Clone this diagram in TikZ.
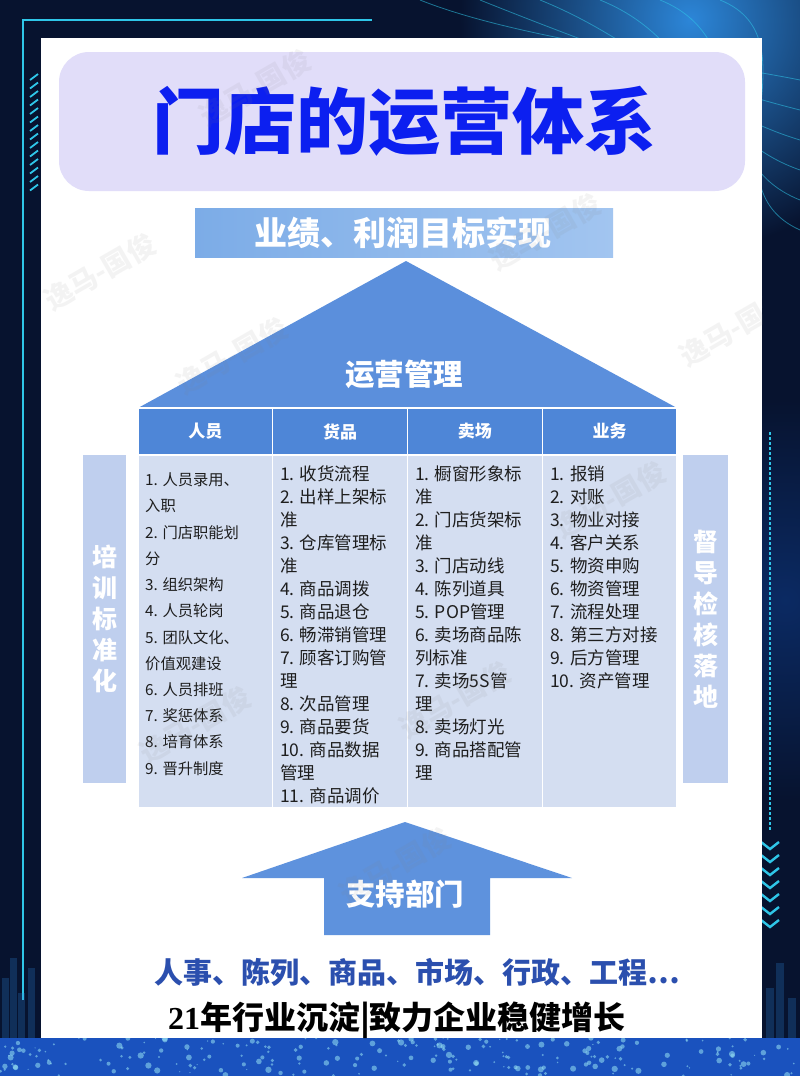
\documentclass[tikz,border=0pt]{standalone}
\usepackage{fontspec}
\newfontfamily\cjk{Noto Sans CJK SC}
\newfontfamily\serifb{Liberation Serif}
\usetikzlibrary{shadings}
\definecolor{bgdark}{HTML}{07132F}
\definecolor{bgmid}{HTML}{0B2A63}
\definecolor{glow}{HTML}{2C86D8}
\definecolor{cyanl}{HTML}{2FC6E8}
\definecolor{titlebox}{HTML}{E1DDF9}
\definecolor{titleblue}{HTML}{0C1FF0}
\definecolor{barL}{HTML}{7CACE7}
\definecolor{barR}{HTML}{A2C5F0}
\definecolor{triblue}{HTML}{5B8FDC}
\definecolor{hdrblue}{HTML}{4E86D7}
\definecolor{bodyblue}{HTML}{D4DEF1}
\definecolor{sideblue}{HTML}{BFCFEE}
\definecolor{arrowblue}{HTML}{5E92DD}
\definecolor{supblue}{HTML}{2B4FAE}
\definecolor{txtc}{HTML}{1E1E1E}
\definecolor{stripblue}{HTML}{1A52BE}
\tikzset{
  hdrcell/.style={fill=hdrblue, draw=white, line width=1.2pt, minimum width=134.75pt, minimum height=47pt, inner sep=0pt, text=white, font=\cjk\bfseries\fontsize{17}{17}\selectfont},
  bodycell/.style={fill=bodyblue, draw=white, line width=1.2pt, minimum width=134.75pt, minimum height=353pt, inner sep=0pt},
  sidebar/.style={fill=sideblue, inner sep=0pt, text=white, align=center, font=\cjk\bfseries\fontsize{25}{31}\selectfont},
  txtA/.style={anchor=west, inner sep=0pt, text=txtc, font=\cjk\fontsize{15.3}{15.3}\selectfont},
  txtB/.style={anchor=west, inner sep=0pt, text=txtc, font=\cjk\fontsize{17.5}{17.5}\selectfont},
  wm/.style={rotate=30, text=gray, opacity=0.09, font=\cjk\bfseries\fontsize{28}{28}\selectfont}
}
\begin{document}
\begin{tikzpicture}[x=1pt,y=-1pt]
\useasboundingbox (0,0) rectangle (800,1076);
% ---------- background ----------
\fill[bgdark] (0,0) rectangle (800,1076);
\shade[inner color=glow, outer color=bgdark] (690,20) circle (230pt);
\shade[inner color=bgmid, outer color=bgdark] (785,600) circle (200pt);
\foreach \a in {0,1,2,3,4,5}{
  \draw[cyanl, opacity=0.55, line width=0.8pt] (420+60*\a,0) .. controls (520+60*\a,40) and (700,60+25*\a) .. (800,80+30*\a);
}
\draw[cyanl, line width=1.6pt] (23,1000) -- (23,20) -- (372,20);
\foreach \k in {0,...,13}{
  \draw[cyanl, line width=1.8pt] (30,80+8.5*\k) -- (38,74+8.5*\k);
}
\draw[cyanl, line width=2pt, dash pattern=on 3pt off 2pt] (770,432) -- (770,830);
\foreach \k in {0,...,6}{
  \draw[cyanl, line width=2.4pt] (761,842+13*\k) -- (770,849+13*\k) -- (779,842+13*\k);
}
\foreach \bx/\bh in {2/60,10/80,18/45,28/70}{
  \fill[glow, opacity=0.25] (\bx,1038-\bh) rectangle (\bx+7,1038);
}
\foreach \bx/\bh in {766/50,776/75,788/40}{
  \fill[glow, opacity=0.25] (\bx,1038-\bh) rectangle (\bx+8,1038);
}
% bottom strip
\fill[stripblue] (0,1038) rectangle (800,1076);
\pgfmathsetseed{11}
\foreach \k in {1,...,220}{
  \pgfmathsetmacro\rx{rnd*800}
  \pgfmathsetmacro\ry{1038+rnd*38}
  \pgfmathsetmacro\rr{0.6+rnd*2.6}
  \fill[cyanl!50!white, opacity=0.55] (\rx,\ry) circle (\rr pt);
}
% ---------- white panel ----------
\fill[white] (41,38) rectangle (762,1038);
% ---------- title ----------
\fill[titlebox, rounded corners=30pt] (59,52) rectangle (745,191);
\node[text=titleblue, font=\cjk\bfseries\fontsize{72}{72}\selectfont, inner sep=0pt] (title) at (404,121) {门店的运营体系};
% ---------- goal bar ----------
\shade[left color=barL, right color=barR] (195,208) rectangle (613,257);
\node[text=white, font=\cjk\bfseries\fontsize{33}{33}\selectfont, inner sep=0pt] (goal) at (403,233) {业绩、利润目标实现};
% ---------- roof triangle ----------
\coordinate (apex) at (406,261);
\coordinate (tl) at (138,408);
\coordinate (tr) at (677,408);
\fill[triblue] (apex) -- (tr) -- (tl) -- cycle;
\node[text=white, font=\cjk\bfseries\fontsize{29.5}{29.5}\selectfont, inner sep=0pt] (ops) at (404,374) {运营管理};
% ---------- header & body ----------
\foreach \t [count=\i from 0] in {人员,货品,卖场,业务}{
  \node[hdrcell] (h\i) at (205.4+134.75*\i,431.5) {\t};
  \node[bodycell] (b\i) at (205.4+134.75*\i,631.5) {};
}
% column texts
\foreach \t [count=\i from 0] in {1. 人员录用、,入职,2. 门店职能划,分,3. 组织架构,4. 人员轮岗,5. 团队文化、,价值观建设,6. 人员排班,7. 奖惩体系,8. 培育体系,9. 晋升制度}{
  \node[txtA] (ca\i) at (145,480+26.2*\i) {\t};
}
\foreach \t [count=\i from 0] in {1. 收货流程,2. 出样上架标,准,3. 仓库管理标,准,4. 商品调拨,5. 商品退仓,6. 畅滞销管理,7. 顾客订购管,理,8. 次品管理,9. 商品要货,10. 商品数据,管理,11. 商品调价}{
  \node[txtB] (cb\i) at (280,474+23*\i) {\t};
}
\foreach \t [count=\i from 0] in {1. 橱窗形象标,准,2. 门店货架标,准,3. 门店动线,4. 陈列道具,5. POP管理,6. 卖场商品陈,列标准,7. 卖场5S管,理,8. 卖场灯光,9. 商品搭配管,理}{
  \node[txtB] (cc\i) at (415,474+23*\i) {\t};
}
\foreach \t [count=\i from 0] in {1. 报销,2. 对账,3. 物业对接,4. 客户关系,5. 物资申购,6. 物资管理,7. 流程处理,8. 第三方对接,9. 后方管理,10. 资产管理}{
  \node[txtB] (cd\i) at (550,474+23*\i) {\t};
}
% ---------- side bars ----------
\node[sidebar, minimum width=43pt, minimum height=328pt] (left) at (104.5,619) {培\\训\\标\\准\\化};
\node[sidebar, minimum width=45pt, minimum height=328pt] (right) at (705.5,619) {督\\导\\检\\核\\落\\地};
% ---------- support arrow ----------
\coordinate (ua) at (405,822);
\fill[arrowblue] (ua) -- (572,878) -- (490,878) -- (490,935) -- (324,935) -- (324,878) -- (242,878) -- cycle;
\node[text=white, font=\cjk\bfseries\fontsize{29.5}{29.5}\selectfont, inner sep=0pt] (sup) at (405,894) {支持部门};
\node[text=supblue, font=\cjk\bfseries\fontsize{29}{29}\selectfont, inner sep=0pt] (depts) at (417,972) {人事、陈列、商品、市场、行政、工程\ldots};
\node[text=black, font=\cjk\bfseries\fontsize{32}{32}\selectfont, inner sep=0pt] (slogan) at (397,1020) {{\serifb\bfseries 21}年行业沉淀|致力企业稳健增长};
% ---------- watermarks ----------
\begin{scope}
\clip (41,38) rectangle (762,1038);
\foreach \wx/\wy in {255/88,545/232,100/272,232/356,735/328,610/500,195/725,455/700,395/866}{
  \node[wm] at (\wx,\wy) {逸马-国俊};
}
\end{scope}
\end{tikzpicture}
\end{document}
